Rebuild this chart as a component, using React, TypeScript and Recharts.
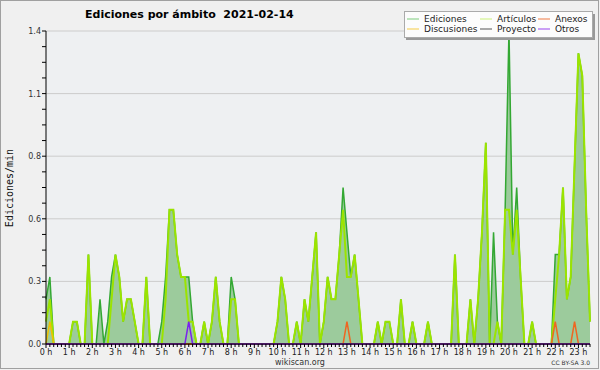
import React from "react";
import {
  ComposedChart,
  Area,
  Line,
  XAxis,
  YAxis,
  CartesianGrid,
} from "recharts";

// 10-minute bins, 0h00 .. 23h30 (edits per minute)
const ediciones = [
  0.2, 0.3, 0, 0, 0, 0, 0, 0.1, 0.1, 0, 0, 0.4,
  0, 0, 0.2, 0, 0.1, 0.3, 0.4, 0.3, 0.1, 0.2, 0.2, 0.1,
  0, 0, 0.3, 0, 0, 0, 0.1, 0.3, 0.6, 0.6, 0.4, 0.3,
  0.3, 0.3, 0.1, 0, 0, 0.1, 0, 0.1, 0.3, 0.1, 0, 0,
  0.3, 0.2, 0, 0, 0, 0, 0, 0, 0, 0, 0, 0,
  0.1, 0.3, 0.2, 0, 0, 0.1, 0, 0.2, 0.1, 0.3, 0.5, 0,
  0.1, 0.3, 0.2, 0.2, 0.4, 0.7, 0.5, 0.3, 0.4, 0.2, 0, 0,
  0, 0, 0.1, 0, 0.1, 0.1, 0, 0, 0.2, 0, 0, 0.1,
  0, 0, 0, 0.1, 0, 0, 0, 0, 0, 0, 0.4, 0,
  0, 0, 0.2, 0, 0.2, 0.5, 0.9, 0, 0.5, 0.1, 0, 0.6,
  1.4, 0.4, 0.7, 0.3, 0, 0, 0.1, 0, 0, 0, 0, 0,
  0.4, 0.4, 0.7, 0.2, 0.3, 0.8, 1.3, 1.2, 0.6, 0.1,
];

const articulos = [
  0.1, 0.2, 0, 0, 0, 0, 0, 0.1, 0.1, 0, 0, 0.4,
  0, 0, 0, 0, 0, 0.2, 0.4, 0.3, 0.1, 0.2, 0.2, 0.1,
  0, 0, 0.3, 0, 0, 0, 0, 0.2, 0.6, 0.6, 0.4, 0.3,
  0.3, 0.1, 0.1, 0, 0, 0.1, 0, 0.1, 0.3, 0.1, 0, 0,
  0.2, 0.2, 0, 0, 0, 0, 0, 0, 0, 0, 0, 0,
  0.1, 0.3, 0.2, 0, 0, 0.1, 0, 0.2, 0.1, 0.3, 0.5, 0,
  0.1, 0.3, 0.2, 0.2, 0.4, 0.6, 0.3, 0.3, 0.4, 0.2, 0, 0,
  0, 0, 0.1, 0, 0.1, 0.1, 0, 0, 0.2, 0, 0, 0.1,
  0, 0, 0, 0.1, 0, 0, 0, 0, 0, 0, 0.4, 0,
  0, 0, 0.2, 0, 0.2, 0.5, 0.9, 0, 0, 0.1, 0, 0.6,
  0.6, 0.4, 0.6, 0.3, 0, 0, 0.1, 0, 0, 0, 0, 0,
  0.2, 0.4, 0.7, 0.2, 0.3, 0.8, 1.3, 1.2, 0.6, 0.1,
];

const discusiones = [
  0, 0.1, 0, 0, 0, 0, 0, 0, 0, 0, 0, 0,
  0, 0, 0, 0, 0, 0, 0, 0, 0, 0, 0, 0,
  0, 0, 0, 0, 0, 0, 0, 0, 0, 0, 0, 0,
  0, 0, 0, 0, 0, 0, 0, 0, 0, 0, 0, 0,
  0, 0, 0, 0, 0, 0, 0, 0, 0, 0, 0, 0,
  0, 0, 0, 0, 0, 0, 0, 0, 0, 0, 0, 0,
  0, 0, 0, 0, 0, 0, 0, 0, 0, 0, 0, 0,
  0, 0, 0, 0, 0, 0, 0, 0, 0, 0, 0, 0,
  0, 0, 0, 0, 0, 0, 0, 0, 0, 0, 0, 0,
  0, 0, 0, 0, 0, 0, 0, 0, 0, 0, 0, 0,
  0, 0, 0, 0, 0, 0, 0, 0, 0, 0, 0, 0,
  0, 0, 0, 0, 0, 0, 0, 0, 0, 0,
];

const anexos = [
  0, 0, 0, 0, 0, 0, 0, 0, 0, 0, 0, 0,
  0, 0, 0, 0, 0, 0, 0, 0, 0, 0, 0, 0,
  0, 0, 0, 0, 0, 0, 0, 0, 0, 0, 0, 0,
  0, 0, 0, 0, 0, 0, 0, 0, 0, 0, 0, 0,
  0, 0, 0, 0, 0, 0, 0, 0, 0, 0, 0, 0,
  0, 0, 0, 0, 0, 0, 0, 0, 0, 0, 0, 0,
  0, 0, 0, 0, 0, 0, 0.1, 0, 0, 0, 0, 0,
  0, 0, 0, 0, 0, 0, 0, 0, 0, 0, 0, 0,
  0, 0, 0, 0, 0, 0, 0, 0, 0, 0, 0, 0,
  0, 0, 0, 0, 0, 0, 0, 0, 0, 0, 0, 0,
  0, 0, 0, 0, 0, 0, 0, 0, 0, 0, 0, 0,
  0.1, 0, 0, 0, 0, 0.1, 0, 0, 0, 0,
];

const otros = [
  0, 0, 0, 0, 0, 0, 0, 0, 0, 0, 0, 0,
  0, 0, 0, 0, 0, 0, 0, 0, 0, 0, 0, 0,
  0, 0, 0, 0, 0, 0, 0, 0, 0, 0, 0, 0,
  0, 0.1, 0, 0, 0, 0, 0, 0, 0, 0, 0, 0,
  0, 0, 0, 0, 0, 0, 0, 0, 0, 0, 0, 0,
  0, 0, 0, 0, 0, 0, 0, 0, 0, 0, 0, 0,
  0, 0, 0, 0, 0, 0, 0, 0, 0, 0, 0, 0,
  0, 0, 0, 0, 0, 0, 0, 0, 0, 0, 0, 0,
  0, 0, 0, 0, 0, 0, 0, 0, 0, 0, 0, 0,
  0, 0, 0, 0, 0, 0, 0, 0, 0, 0, 0, 0,
  0, 0, 0, 0, 0, 0, 0, 0, 0, 0, 0, 0,
  0, 0, 0, 0, 0, 0, 0, 0, 0, 0,
];

const hourLabels = [
  "0 h", "1 h", "2 h", "3 h", "4 h", "5 h", "6 h", "7 h", "8 h", "9 h", "10 h", "11 h",
  "12 h", "13 h", "14 h", "15 h", "16 h", "17 h", "18 h", "19 h", "20 h", "21 h", "22 h", "23 h",
];

const yTicks = [
  0, 0.07, 0.14, 0.21, 0.28, 0.35, 0.42, 0.49, 0.56, 0.63, 0.7,
  0.77, 0.84, 0.91, 0.98, 1.05, 1.12, 1.19, 1.26, 1.33, 1.4,
];
const yMajor = [0, 0.28, 0.56, 0.84, 1.12, 1.4];

const legendItems = [
  { name: "Ediciones", color: "#7ccc7c" },
  { name: "Discusiones", color: "#f5cc44" },
  { name: "Artículos", color: "#ccf27a" },
  { name: "Proyecto", color: "#555555" },
  { name: "Anexos", color: "#f07a44" },
  { name: "Otros", color: "#9944ee" },
];

const data = ediciones.map((v, i) => ({
  n: i,
  ediciones: v,
  articulos: articulos[i],
  discusiones: discusiones[i],
  proyecto: 0,
  anexos: anexos[i],
  otros: otros[i],
}));
const xTicks = data.map((d) => d.n);

const isMajorY = (v: number) => yMajor.some((m) => Math.abs(m - v) < 1e-6);

function YTick(props: any) {
  const { x, y, payload } = props;
  const major = isMajorY(payload.value);
  return (
    <g>
      <line x1={x} x2={x - 4} y1={y} y2={y} stroke="#000" />
      {major && (
        <text x={x - 5} y={y + 3} textAnchor="end" fontSize={8} fill="#333" fontFamily="DejaVu Sans">
          {payload.value.toFixed(1)}
        </text>
      )}
    </g>
  );
}

function XTick(props: any) {
  const { x, y, payload } = props;
  const n = payload.value;
  const major = n % 6 === 0;
  return (
    <g>
      <line x1={x} x2={x} y1={y} y2={y + (major ? 4 : 3)} stroke="#000" />
      {major && (
        <text x={x} y={y + 11} textAnchor="middle" fontSize={8} fill="#222" fontFamily="DejaVu Sans">
          {hourLabels[n / 6]}
        </text>
      )}
    </g>
  );
}

export default function App() {
  const cols = [407, 480, 538];
  return (
    <div style={{ position: "absolute", left: 0, top: 0, width: 600, height: 370, background: "#f0f0f0" }}>
      <ComposedChart
        width={600}
        height={370}
        data={data}
        margin={{ top: 31, right: 10, bottom: 6, left: 6 }}
      >
        <CartesianGrid
          vertical={false}
          horizontalValues={yMajor}
          stroke="#cccccc"
          fill="#eef0f2"
          fillOpacity={1}
        />
        <Area
          type="linear"
          dataKey="ediciones"
          stroke="#33a833"
          strokeWidth={1.5}
          fill="#9ccb9c"
          fillOpacity={1}
          dot={false}
          isAnimationActive={false}
        />
        <Line type="linear" dataKey="articulos" stroke="#9be400" strokeWidth={2} dot={false} isAnimationActive={false} />
        <Line type="linear" dataKey="discusiones" stroke="#f0c000" strokeWidth={1.5} dot={false} isAnimationActive={false} />
        <Line type="linear" dataKey="proyecto" stroke="#555555" strokeWidth={1.5} dot={false} isAnimationActive={false} />
        <Line type="linear" dataKey="anexos" stroke="#ee6622" strokeWidth={1.5} dot={false} isAnimationActive={false} />
        <Line type="linear" dataKey="otros" stroke="#7a22ee" strokeWidth={1.5} dot={false} isAnimationActive={false} />
        <XAxis
          type="number"
          dataKey="n"
          domain={[0, 141]}
          ticks={xTicks}
          interval={0}
          height={20}
          tickSize={0}
          tickMargin={0}
          tickLine={false}
          axisLine={{ stroke: "#000" }}
          tick={<XTick />}
        />
        <YAxis
          type="number"
          domain={[0, 1.4]}
          ticks={yTicks}
          interval={0}
          width={40}
          tickSize={0}
          tickMargin={0}
          tickLine={false}
          axisLine={{ stroke: "#000" }}
          tick={<YTick />}
        />
      </ComposedChart>
      <svg
        width={600}
        height={370}
        style={{ position: "absolute", left: 0, top: 0, pointerEvents: "none" }}
      >
        <rect x={0.5} y={0.5} width={598} height={368} fill="none" stroke="#a0a0a0" />
        <text
          x={85}
          y={17.5}
          fontSize={11}
          fontWeight="bold"
          fontFamily="DejaVu Sans"
          fill="#000"
          style={{ whiteSpace: "pre" }}
        >
          {"Ediciones por ámbito  2021-02-14"}
        </text>
        <rect x={406} y={14} width={189} height={26} fill="#999999" />
        <rect x={404.5} y={11.5} width={188} height={26} fill="#fcfcfc" stroke="#aaaaaa" />
        {legendItems.map((item, i) => {
          const col = Math.floor(i / 2);
          const row = i % 2;
          const lx = cols[col];
          const ly = row === 0 ? 19 : 29;
          return (
            <g key={item.name}>
              <line x1={lx} x2={lx + 12} y1={ly} y2={ly} stroke={item.color} />
              <text x={lx + 17} y={ly + 3} fontSize={9} fontFamily="DejaVu Sans" fill="#222">
                {item.name}
              </text>
            </g>
          );
        })}
        <text
          transform="translate(13,188) rotate(-90)"
          textAnchor="middle"
          fontSize={10}
          fontFamily="DejaVu Sans Mono"
          fill="#111"
        >
          Ediciones/min
        </text>
        <text x={300} y={365} textAnchor="middle" fontSize={8} fontFamily="DejaVu Sans" fill="#333">
          wikiscan.org
        </text>
        <text x={590} y={364.5} textAnchor="end" fontSize={6} fontFamily="DejaVu Sans" fill="#333">
          CC BY-SA 3.0
        </text>
      </svg>
    </div>
  );
}
